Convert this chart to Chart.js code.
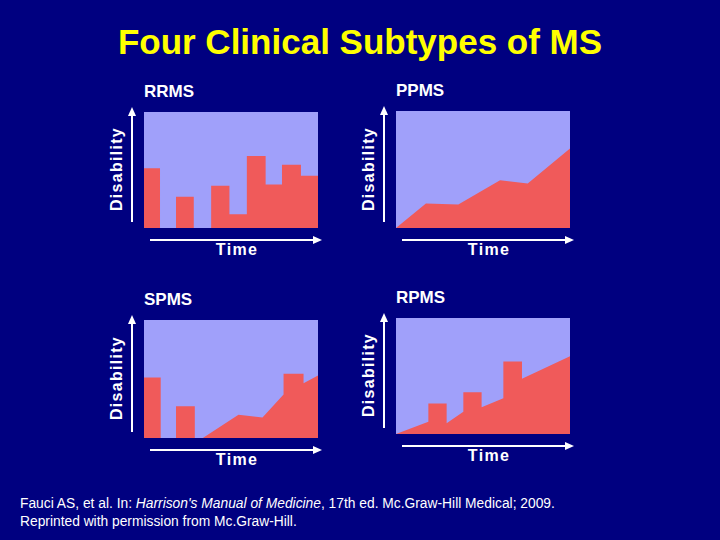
<!DOCTYPE html>
<html>
<head>
<meta charset="utf-8">
<script src="https://cdn.jsdelivr.net/npm/chart.js@4"></script>
<style>
  body { margin: 0; width: 720px; height: 540px; background: #000080; position: relative; overflow: hidden; font-family: "Liberation Sans", Arial, sans-serif; color: #fff; }
  .abs { position: absolute; }
  h1 { position: absolute; left: 0; width: 720px; top: 22px; margin: 0; text-align: center; color: #ffff00; font-size: 35px; font-weight: bold; }
  .ttl { font-weight: bold; font-size: 17px; }
  .lbl { font-weight: bold; font-size: 16px; letter-spacing: 1.3px; }
  .vline { width: 2px; background: #fff; }
  .hline { height: 2px; background: #fff; }
  .up { width: 0; height: 0; border-left: 4px solid transparent; border-right: 4px solid transparent; border-bottom: 9px solid #fff; }
  .right { width: 0; height: 0; border-top: 4px solid transparent; border-bottom: 4px solid transparent; border-left: 9px solid #fff; }
  .foot { left: 20px; top: 495px; font-size: 13.8px; line-height: 18px; }
</style>
</head>
<body>
<h1>Four Clinical Subtypes of MS</h1>
<div class="abs foot">Fauci AS, et al. In: <i>Harrison's Manual of Medicine</i>, 17th ed. Mc.Graw-Hill Medical; 2009.<br>Reprinted with permission from Mc.Graw-Hill.</div>
<script>
// disability (0-100) vs time (0-100)
const rrmsX = [0, 0, 9.2, 9.2, 18.4, 18.4, 28.6, 28.6, 38.6, 38.6, 49.1, 49.1, 59.1, 59.1, 69.9, 69.9, 79.3, 79.3, 90.2, 90.2, 100, 100];
const rrmsY = [0, 51.5, 51.5, 0, 0, 27, 27, 0, 0, 36.5, 36.5, 11.8, 11.8, 62, 62, 37.4, 37.4, 54.6, 54.6, 45, 45, 0];
const ppmsX = [0, 17.2, 35.8, 59.8, 75.7, 100];
const ppmsY = [0, 20.9, 20, 40.9, 38, 68];
const spmsX = [0, 0, 9.6, 9.6, 18.4, 18.4, 29.2, 29.2, 33.8, 54.3, 68.1, 80.2, 80.2, 91.7, 91.7, 100];
const spmsY = [0, 51.3, 51.3, 0, 0, 27, 27, 0, 0, 19.8, 17.3, 36.8, 54.4, 54.4, 46.5, 53];
const rpmsX = [0, 18.6, 18.6, 29.1, 29.1, 38.7, 38.7, 49.2, 49.2, 61.7, 61.7, 72.4, 72.4, 100];
const rpmsY = [0, 10.6, 26.4, 26.4, 9.2, 19.2, 35.9, 35.9, 23, 30.9, 62.5, 62.5, 47.6, 67];

const panels = [
  { name: "RRMS", xs: rrmsX, ys: rrmsY, left: 144, top: 112, w: 174, h: 116 },
  { name: "PPMS", xs: ppmsX, ys: ppmsY, left: 396, top: 111, w: 174, h: 117 },
  { name: "SPMS", xs: spmsX, ys: spmsY, left: 144, top: 320, w: 174, h: 118 },
  { name: "RPMS", xs: rpmsX, ys: rpmsY, left: 396, top: 318, w: 174, h: 116 }
];

const plotBg = {
  id: "plotBg",
  beforeDraw(chart) {
    const { ctx, chartArea: a } = chart;
    ctx.save();
    ctx.fillStyle = "#a0a0fa";
    ctx.fillRect(a.left, a.top, a.right - a.left, a.bottom - a.top);
    ctx.restore();
  }
};

function addDiv(cls, css, text) {
  const d = document.createElement("div");
  d.className = "abs " + cls;
  Object.assign(d.style, css);
  if (text) d.textContent = text;
  document.body.appendChild(d);
}

panels.forEach(p => {
  const L = p.left, T = p.top, B = p.top + p.h, R = p.left + p.w;
  addDiv("ttl", { left: L + "px", top: (T - 30) + "px" }, p.name);
  // y arrow
  addDiv("vline", { left: (L - 13) + "px", top: (T + 2) + "px", height: (p.h - 8) + "px" });
  addDiv("up", { left: (L - 16) + "px", top: (T - 5) + "px" });
  // x arrow
  addDiv("hline", { left: (L + 6) + "px", top: (B + 11) + "px", width: (p.w - 10) + "px" });
  addDiv("right", { left: (R - 5) + "px", top: (B + 8) + "px" });
  addDiv("lbl", { left: (L + 6) + "px", width: p.w + "px", textAlign: "center", top: (B + 13) + "px" }, "Time");
  addDiv("lbl", { left: (L - 77) + "px", width: "100px", textAlign: "center", top: (T + p.h / 2 - 10) + "px", transform: "rotate(-90deg)" }, "Disability");

  const cv = document.createElement("canvas");
  const box = document.createElement("div");
  box.className = "abs";
  Object.assign(box.style, { left: L + "px", top: T + "px", width: p.w + "px", height: p.h + "px" });
  box.appendChild(cv);
  document.body.appendChild(box);

  new Chart(cv.getContext("2d"), {
    type: "line",
    data: {
      datasets: [{
        data: p.xs.map((x, i) => ({ x: x, y: p.ys[i] })),
        borderColor: "#f05a5a",
        backgroundColor: "#f05a5a",
        borderWidth: 0,
        pointRadius: 0,
        tension: 0,
        fill: "origin"
      }]
    },
    options: {
      responsive: true,
      maintainAspectRatio: false,
      animation: false,
      layout: { padding: 0 },
      plugins: { legend: { display: false }, tooltip: { enabled: false } },
      scales: {
        x: { type: "linear", min: 0, max: 100, display: false },
        y: { min: 0, max: 100, display: false }
      }
    },
    plugins: [plotBg]
  });
});
</script>
</body>
</html>
